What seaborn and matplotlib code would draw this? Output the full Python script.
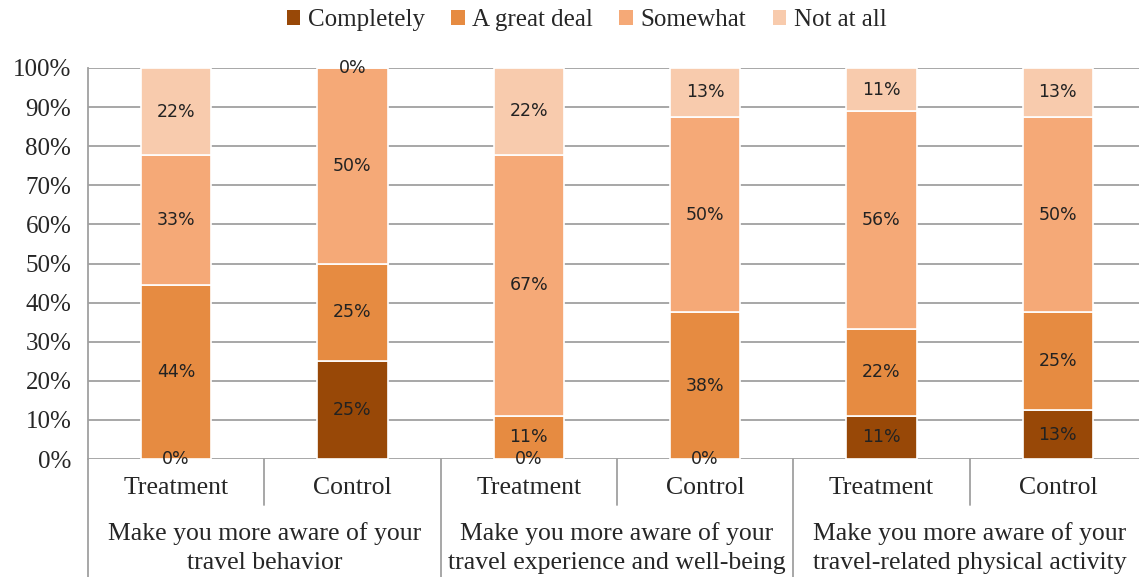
import matplotlib
matplotlib.use('Agg')
import matplotlib.pyplot as plt
import seaborn as sns
from matplotlib.patches import Patch

sns.set_style('white')
plt.rcParams['font.family'] = ['Liberation Serif', 'DejaVu Serif']

# data (share of respondents, %)
bar_ids = ['b1', 'b2', 'b3', 'b4', 'b5', 'b6']
arms = ['Treatment', 'Control', 'Treatment', 'Control', 'Treatment', 'Control']
groups = [('Make you more aware of your', 'travel behavior'),
          ('Make you more aware of your', 'travel experience and well-being'),
          ('Make you more aware of your', 'travel-related physical activity')]
levels = ['Completely', 'A great deal', 'Somewhat', 'Not at all']
completely = [0, 25, 0, 0, 11.1, 12.5]
great_deal = [44.4, 25, 11.1, 37.5, 22.2, 25]
somewhat = [33.3, 50, 66.7, 50, 55.6, 50]
not_at_all = [22.2, 0, 22.2, 12.5, 11.1, 12.5]
colors = ['#984807', '#E68B41', '#F5A977', '#F8CBAD']

series = [completely, great_deal, somewhat, not_at_all]

fig = plt.figure(figsize=(11.39, 5.77), dpi=100)
ax = fig.add_axes([88 / 1139, 118 / 577, 1058 / 1139, 391 / 577])

grid_col = '#A0A0A0'
for t in range(0, 11):
    ax.axhline(t / 10, color=grid_col, lw=1.3, zorder=0)

bottom = [0.0] * 6
for vals, col in zip(series, colors):
    frac = [v / 100 for v in vals]
    sns.barplot(x=bar_ids, y=frac, order=bar_ids, bottom=bottom, color=col,
                saturation=1, width=0.4, edgecolor='white', linewidth=1.2,
                ax=ax, zorder=2)
    cont = ax.containers[-1]
    ax.bar_label(cont, labels=['%d%%' % int(v + 0.5) for v in vals],
                 label_type='center', fontsize=12.5, family='DejaVu Sans',
                 color='#222222')
    bottom = [b + f for b, f in zip(bottom, frac)]

ax.set_xlim(-0.5, 5.5)
ax.set_ylim(0, 1)
ax.set_yticks([t / 10 for t in range(11)])
ax.set_yticklabels(['%d%%' % (t * 10) for t in range(11)], fontsize=18)
ax.tick_params(axis='y', length=8, color=grid_col, width=1.3, pad=4)
ax.tick_params(axis='x', length=0, labelbottom=False)
ax.set_xlabel('')
ax.set_ylabel('')
for s in ['top', 'right', 'bottom']:
    ax.spines[s].set_visible(False)
ax.spines['left'].set_color(grid_col)
ax.spines['left'].set_linewidth(1.3)

# category axis below the plot
tr = ax.get_xaxis_transform()
for i in range(7):
    x = i - 0.5
    y_end = -0.302 if i % 2 == 0 else -0.118
    ax.plot([x, x], [0, y_end], transform=tr, color=grid_col, lw=1.3,
            clip_on=False)
for i, arm in enumerate(arms):
    ax.text(i, -0.074, arm, transform=tr, ha='center', va='center', fontsize=18.5)
for g, (l1, l2) in enumerate(groups):
    ax.text(2 * g + 0.5, -0.19, l1, transform=tr, ha='center', va='center', fontsize=18.5)
    ax.text(2 * g + 0.5, -0.265, l2, transform=tr, ha='center', va='center', fontsize=18.5)

handles = [Patch(facecolor=c, edgecolor='none', label=l) for c, l in zip(colors, levels)]
fig.legend(handles=handles, loc='center', bbox_to_anchor=(0.515, 1 - 20 / 577),
           ncol=4, frameon=False, fontsize=18, handlelength=0.55, handleheight=0.55,
           handletextpad=0.3, columnspacing=1.05)

fig.savefig('out.png', dpi=100)
